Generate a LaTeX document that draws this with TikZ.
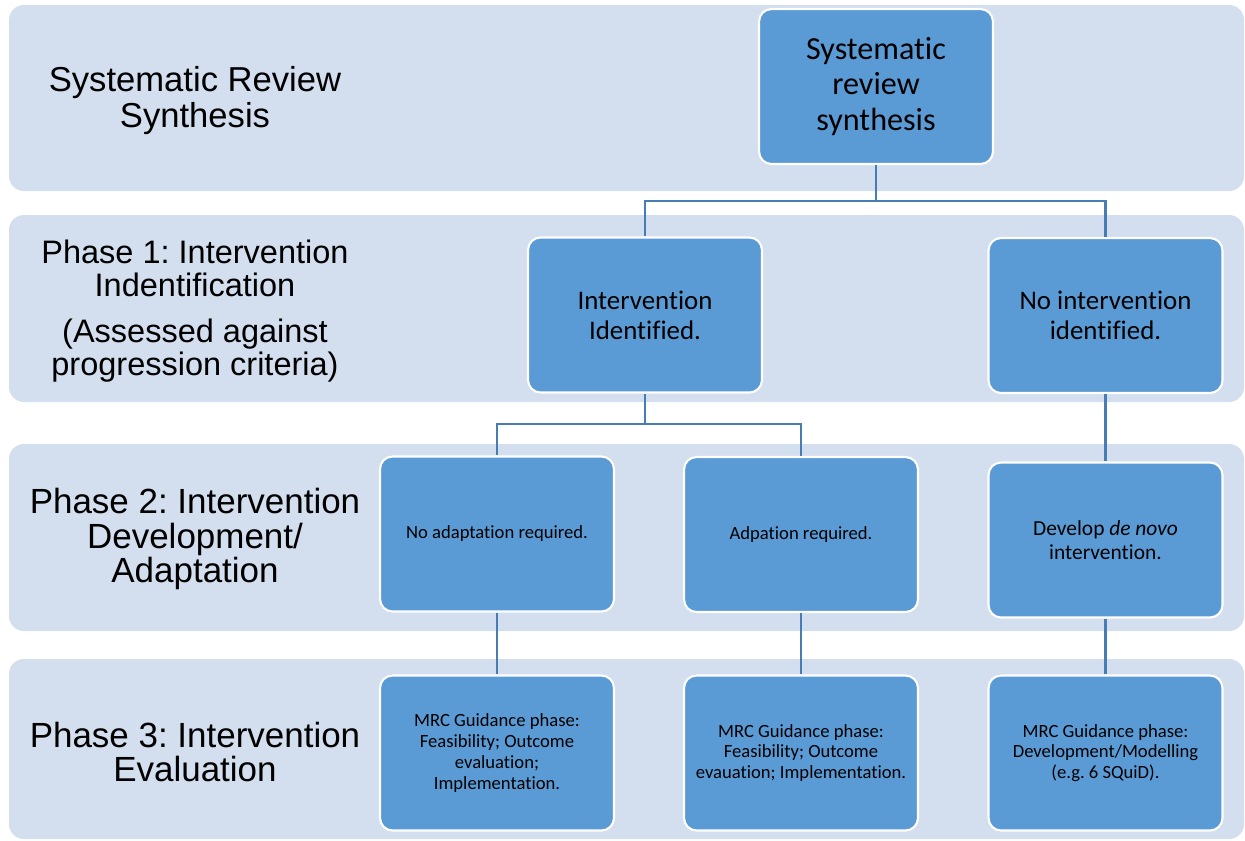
\documentclass[tikz,border=0pt]{standalone}
\usepackage{fontspec}
\setmainfont{Carlito}[Ligatures=NoCommon]
\newfontfamily\labelfont{Liberation Sans}
\usetikzlibrary{positioning}
\definecolor{bandcolor}{RGB}{211,222,238}
\definecolor{boxcolor}{RGB}{91,155,213}
\definecolor{linkcolor}{RGB}{70,125,180}
\frenchspacing

\begin{document}
\begin{tikzpicture}[
    x=0.02cm, y=-0.02cm,
    band/.style={fill=bandcolor, rounded corners=0.3cm},
    stage/.style={rectangle, draw=white, line width=1.2pt, fill=boxcolor, rounded corners=0.25cm, minimum width=4.68cm, minimum height=3.1cm, align=center, inner sep=2pt},
    phase/.style={align=center, font=\labelfont\fontsize{19.9}{19.5}\selectfont},
    bigtext/.style={font=\fontsize{18.3}{20}\selectfont},
    midtext/.style={font=\fontsize{15.3}{17}\selectfont},
    devtext/.style={font=\fontsize{12.2}{13.5}\selectfont},
    smalltext/.style={font=\fontsize{10.6}{11.8}\selectfont},
    link/.style={draw=linkcolor, line width=1.2pt}
]
\useasboundingbox (0,0) rectangle (1245,840);

% phase bands
\fill[band] (9,5) rectangle (1244,191);
\fill[band] (9,215) rectangle (1244,402);
\fill[band] (9,444) rectangle (1244,631);
\fill[band] (9,659) rectangle (1244,839);

\node[phase, font=\labelfont\fontsize{19.7}{20.5}\selectfont] (p0) at (195,101) {Systematic Review\\Synthesis};
\node[phase, font=\labelfont\fontsize{18.5}{18.5}\selectfont] (p1) at (195,311) {Phase 1: Intervention\\Indentification\\[8pt](Assessed against\\progression criteria)};
\node[phase] (p2) at (195,539) {Phase 2: Intervention\\Development/\\Adaptation};
\node[phase] (p3) at (195,752) {Phase 3: Intervention\\Evaluation};

\node[stage, bigtext] (synth) at (876,86.5) {Systematic\\review\\synthesis};
\node[stage, midtext] (found) at (645,315) {Intervention\\Identified.};
\node[stage, midtext] (none) at (1105.5,315.5) {No intervention\\identified.};

\node[stage, smalltext] (noadapt) at (497,534) {No adaptation required.};
\node[stage, smalltext] (adapt) at (801,534.5) {Adpation required.};
\node[stage, devtext] (denovo) at (1105.5,540) {Develop \textit{de novo}\\intervention.};

\node[stage, smalltext] (eval1) at (497,753) {MRC Guidance phase:\\Feasibility; Outcome\\evaluation;\\Implementation.};
\node[stage, smalltext] (eval2) at (801,753) {MRC Guidance phase:\\Feasibility; Outcome\\evauation; Implementation.};
\node[stage, smalltext] (devmod) at (1105.5,753) {MRC Guidance phase:\\Development/Modelling\\(e.g. 6 SQuiD).};

\coordinate (split1) at (876,201);
\coordinate (split2) at (645,424);

\draw[link] (synth) -- (split1) -| (found);
\draw[link] (split1) -| (none);
\draw[link] (found) -- (split2) -| (noadapt);
\draw[link] (split2) -| (adapt);
\draw[link] (none) -- (denovo);
\draw[link] (noadapt) -- (eval1);
\draw[link] (adapt) -- (eval2);
\draw[link] (denovo) -- (devmod);
\end{tikzpicture}
\end{document}
